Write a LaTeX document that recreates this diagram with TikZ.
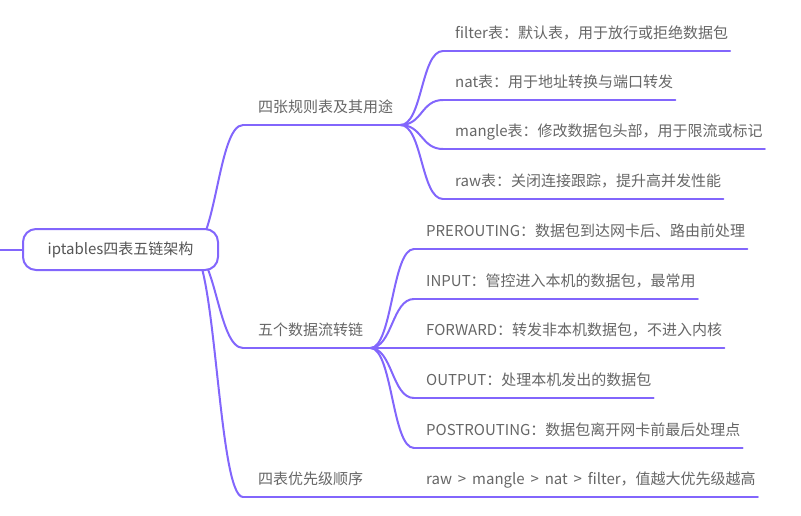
\documentclass[tikz,border=0pt]{standalone}
\usepackage{fontspec}
\setmainfont{Noto Sans CJK SC}[WordSpace=1.75]
\usetikzlibrary{positioning, backgrounds}
\definecolor{mapviolet}{RGB}{130, 102, 252}
\definecolor{mapgray}{RGB}{102, 102, 102}
\definecolor{rootgray}{RGB}{85, 85, 85}

\begin{document}
\begin{tikzpicture}[x=1pt, y=-1pt,
  link/.style={mapviolet, line width=2pt, line cap=round},
  rootnode/.style={draw=mapviolet, line width=2pt, fill=white, rounded corners=13pt,
    minimum width=195pt, minimum height=41pt, text=rootgray, font=\fontsize{15}{18}\selectfont},
  topic/.style={anchor=south west, inner xsep=0pt, inner ysep=8.4pt, text height=11pt,
    text depth=4pt, text=mapgray, font=\fontsize{15}{18}\selectfont}]
  \useasboundingbox (0,0) rectangle (801,516);
  \coordinate (inlet) at (0,249.5);
  \node[rootnode] (root) at (120.5,249.5) {iptables四表五链架构};
  % first level
  \node[topic] (tab) at (258,125) {四张规则表及其用途};
  \node[topic] (chn) at (258,348) {五个数据流转链};
  \node[topic] (ord) at (258,497) {四表优先级顺序};
  % tables
  \node[topic] (ft) at (455,51)  {filter表：默认表，用于放行或拒绝数据包};
  \node[topic] (nt) at (455,100) {nat表：用于地址转换与端口转发};
  \node[topic] (mt) at (455,149) {mangle表：修改数据包头部，用于限流或标记};
  \node[topic] (rt) at (455,199) {raw表：关闭连接跟踪，提升高并发性能};
  % chains
  \node[topic] (pre)  at (426,249) {PREROUTING：数据包到达网卡后、路由前处理};
  \node[topic] (inp)  at (426,299) {INPUT：管控进入本机的数据包，最常用};
  \node[topic] (fwd)  at (426,348) {FORWARD：转发非本机数据包，不进入内核};
  \node[topic] (out)  at (426,398) {OUTPUT：处理本机发出的数据包};
  \node[topic] (post) at (426,448) {POSTROUTING：数据包离开网卡前最后处理点};
  % order
  \node[topic] (prio) at (426,497) {raw > mangle > nat > filter，值越大优先级越高};

  \begin{scope}[on background layer]
    \draw[link] (inlet) -- (root.west);
    \foreach \c in {tab, chn, ord}
      \draw[link] ([xshift=-28pt]root.east) .. controls +(25,0) and +(-25,0) .. ([xshift=-15pt]\c.south west);
    \foreach \c in {tab, chn, ord}
      \draw[link] ([xshift=-15pt]\c.south west) -- ([xshift=7pt]\c.south east);
    \foreach \p/\c in {tab/ft, tab/nt, tab/mt, tab/rt, chn/pre, chn/inp, chn/fwd, chn/out, chn/post, ord/prio}
      \draw[link] ([xshift=7pt]\p.south east) .. controls +(22,0) and +(-22,0) .. ([xshift=-12pt]\c.south west);
    \foreach \c in {ft, nt, mt, rt, pre, inp, fwd, out, post, prio}
      \draw[link] ([xshift=-12pt]\c.south west) -- ([xshift=2pt]\c.south east);
  \end{scope}
\end{tikzpicture}
\end{document}
